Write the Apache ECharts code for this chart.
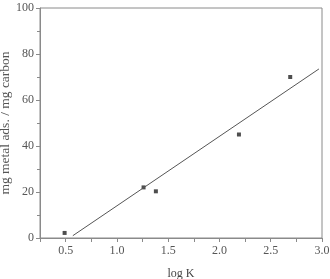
<!DOCTYPE html>
<html>
<head>
<meta charset="utf-8">
<script src="https://cdn.jsdelivr.net/npm/echarts@6/dist/echarts.min.js"></script>
<style>
  html, body { margin: 0; padding: 0; background: #fff; }
  #chart { width: 330px; height: 279px; }
</style>
</head>
<body>
<div id="chart"></div>
<script>
// measured points (log K, mg metal ads. / mg carbon)
const logK = [0.49, 1.26, 1.38, 2.19, 2.69];
const adsorbed = [2.2, 22, 20.3, 45, 70];

// fitted line end points
const fitX = [0.57, 2.97];
const fitY = [1.0, 73.5];

const chart = echarts.init(document.getElementById('chart'));

const font = 'Liberation Serif, DejaVu Serif, serif';
const axisGray = '#8a8a8a';

chart.setOption({
  animation: false,
  grid: {
    left: 40, right: 8, top: 8, bottom: 41,
    outerBoundsMode: 'none', containLabel: false,
    show: true, borderColor: axisGray, borderWidth: 1
  },
  xAxis: {
    type: 'value',
    min: 0.25,
    max: 3.0,
    interval: 0.25,
    name: 'log K',
    nameLocation: 'middle',
    nameGap: 30,
    nameMoveOverlap: false,
    nameTextStyle: { fontFamily: font, fontSize: 12, color: '#444' },
    axisLine: { lineStyle: { color: axisGray } },
    axisTick: { length: 4, lineStyle: { color: axisGray } },
    axisLabel: {
      fontFamily: font, fontSize: 12, color: '#555', margin: 7,
      formatter: v => (Math.abs(v * 2 - Math.round(v * 2)) < 1e-6 ? v.toFixed(1) : '')
    },
    splitLine: { show: false }
  },
  yAxis: {
    type: 'value',
    min: 0,
    max: 100,
    interval: 20,
    name: 'mg metal ads. / mg carbon',
    nameLocation: 'middle',
    nameGap: 28,
    nameMoveOverlap: false,
    nameTextStyle: { fontFamily: font, fontSize: 13.5, color: '#555' },
    axisLine: { show: true, lineStyle: { color: axisGray } },
    axisTick: { length: 4, lineStyle: { color: axisGray } },
    minorTick: { show: true, splitNumber: 2, length: 3, lineStyle: { color: axisGray } },
    axisLabel: { fontFamily: font, fontSize: 12, color: '#555', margin: 6 },
    splitLine: { show: false }
  },
  series: [
    {
      type: 'line',
      data: fitX.map((x, i) => [x, fitY[i]]),
      symbol: 'none',
      lineStyle: { color: '#555', width: 1 }
    },
    {
      type: 'scatter',
      data: logK.map((x, i) => [x, adsorbed[i]]),
      symbol: 'rect',
      symbolSize: 4,
      itemStyle: { color: '#222' }
    }
  ]
});
</script>
</body>
</html>
